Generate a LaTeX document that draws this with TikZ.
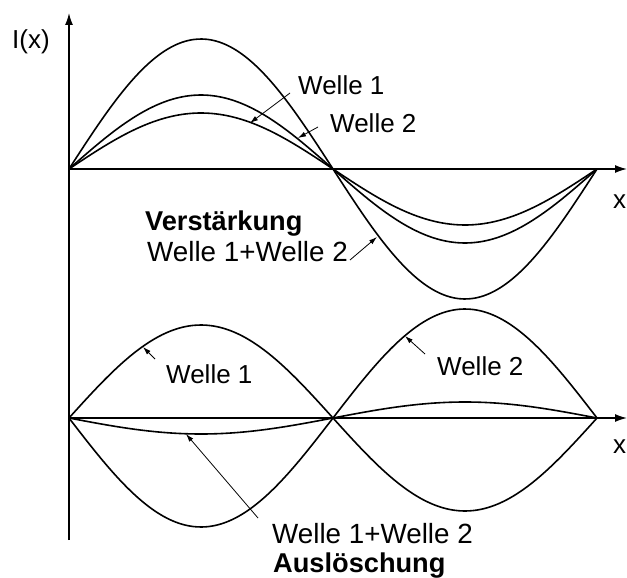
\documentclass[tikz,border=0pt]{standalone}
\usepackage{fontspec}
\setmainfont{Liberation Sans}
\usetikzlibrary{arrows.meta}
\tikzset{
  lbl/.style={anchor=base west, inner sep=0pt, font=\fontsize{26}{30}\selectfont},
  slbl/.style={lbl, font=\fontsize{27.8}{32}\selectfont},
  blbl/.style={lbl, font=\fontsize{27.2}{32}\selectfont\bfseries},
  axis/.style={line width=1.4pt, -{Latex[length=12pt,width=8pt]}},
  wave/.style={line width=1.6pt, line join=round},
  pointer/.style={line width=0.8pt, -{Latex[length=8pt,width=5pt]}}
}
\begin{document}
\begin{tikzpicture}[x=1pt,y=-1pt]
\useasboundingbox (0,0) rectangle (627,578);
% axes
\coordinate (yb) at (69,540);
\coordinate (yt) at (69,13);
\coordinate (xa0) at (69,169);
\coordinate (xa1) at (627,169);
\coordinate (xb0) at (69,418);
\coordinate (xb1) at (627,418);
\draw[axis] (yb) -- (yt);
\draw[axis] (xa0) -- (xa1);
\draw[axis] (xb0) -- (xb1);
% upper waves
\draw[wave] plot[domain=69:597, samples=120, smooth, variable=\t] (\t, {169-130*sin(((\t-69)/264)*180)});
\draw[wave] plot[domain=69:597, samples=120, smooth, variable=\t] (\t, {169-74*sin(((\t-69)/264)*180)});
\draw[wave] plot[domain=69:597, samples=120, smooth, variable=\t] (\t, {169-56*sin(((\t-69)/264)*180)});
% lower waves
\draw[wave] plot[domain=69:597, samples=120, smooth, variable=\t] (\t, {418-93*sin(((\t-69)/264)*180)});
\draw[wave] plot[domain=69:597, samples=120, smooth, variable=\t] (\t, {418+109*sin(((\t-69)/264)*180)});
\draw[wave] plot[domain=69:597, samples=120, smooth, variable=\t] (\t, {418+16*sin(((\t-69)/264)*180)});
% labels
\node[lbl] (ylab) at (12,49) {I(x)};
\node[lbl] (xlabA) at (613,208) {x};
\node[lbl] (xlabB) at (613,453) {x};
\node[lbl] (w1a) at (298,95) {Welle 1};
\node[lbl] (w2a) at (330,132) {Welle 2};
\node[blbl] (verst) at (145,230) {Verstärkung};
\node[slbl] (sumA) at (147,261) {Welle 1+Welle 2};
\node[lbl] (w1b) at (166,383) {Welle 1};
\node[lbl] (w2b) at (437,375) {Welle 2};
\node[slbl] (sumB) at (272,543) {Welle 1+Welle 2};
\node[blbl] (ausl) at (273,572) {Auslöschung};
% pointer arrows
\coordinate (p1s) at (290,93);  \coordinate (p1e) at (250,123);
\coordinate (p2s) at (318,127); \coordinate (p2e) at (298,138);
\coordinate (p3s) at (350,260); \coordinate (p3e) at (377,237);
\coordinate (p4s) at (155,359); \coordinate (p4e) at (143,347);
\coordinate (p5s) at (425,354); \coordinate (p5e) at (405,336);
\coordinate (p6s) at (258,518); \coordinate (p6e) at (186,434);
\draw[pointer] (p1s) -- (p1e);
\draw[pointer] (p2s) -- (p2e);
\draw[pointer] (p3s) -- (p3e);
\draw[pointer] (p4s) -- (p4e);
\draw[pointer] (p5s) -- (p5e);
\draw[pointer] (p6s) -- (p6e);
\end{tikzpicture}
\end{document}
